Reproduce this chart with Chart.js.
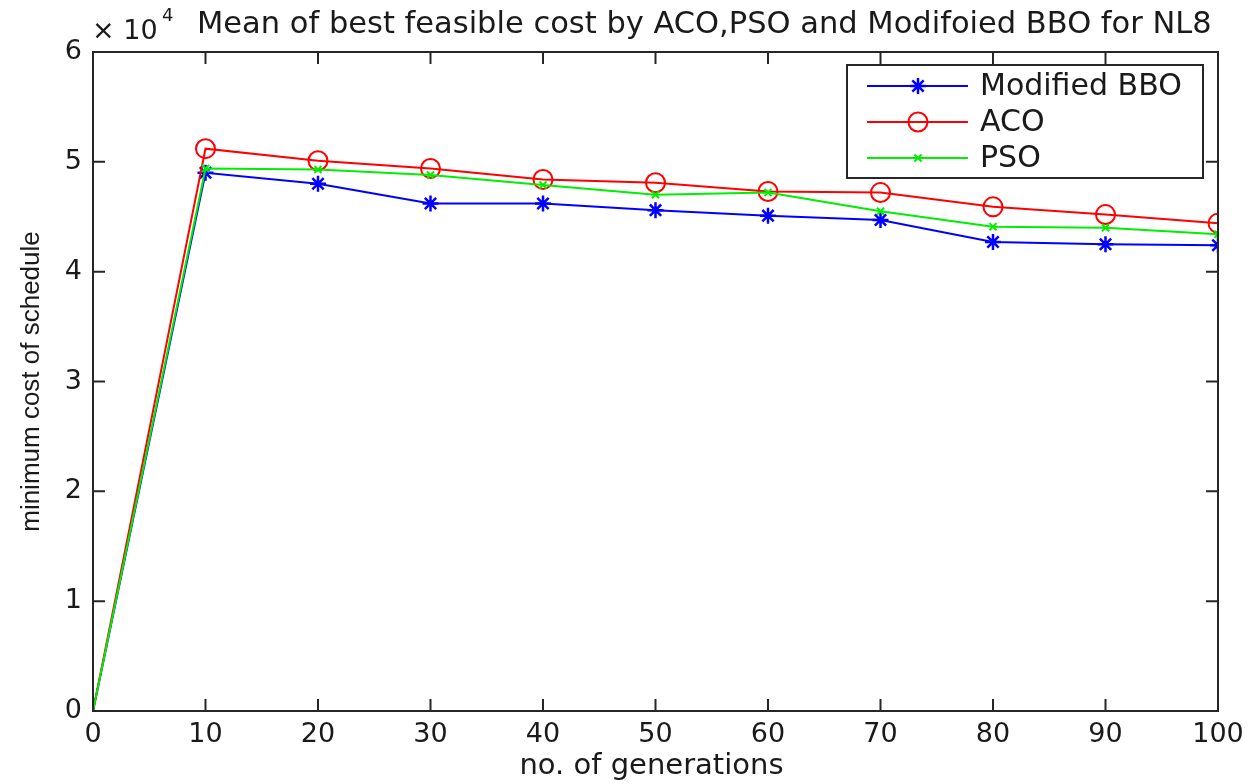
<!DOCTYPE html>
<html>
<head>
<meta charset="utf-8">
<title>Mean of best feasible cost by ACO,PSO and Modifoied BBO for NL8</title>
<script src="https://cdn.jsdelivr.net/npm/chart.js@4.4.1/dist/chart.umd.min.js"></script>
<style>
  body { margin: 0; background: #fff; }
  canvas { display: block; }
</style>
</head>
<body>
<canvas id="myChart" width="1260" height="784"></canvas>
<script>
// values (cost in raw units, axis shows x 10^4)
const generations = [0, 10, 20, 30, 40, 50, 60, 70, 80, 90, 100];
const bboCost = [0, 49000, 48000, 46200, 46200, 45600, 45100, 44700, 42700, 42500, 42400];
const acoCost = [0, 51200, 50100, 49400, 48400, 48100, 47300, 47200, 45900, 45200, 44400];
const psoCost = [0, 49400, 49300, 48800, 47900, 47000, 47200, 45500, 44100, 44000, 43400];
const seriesNames = ["Modified BBO", "ACO", "PSO"];
const yTickValues = [0, 10000, 20000, 30000, 40000, 50000, 60000];
const xTickValues = [0, 10, 20, 30, 40, 50, 60, 70, 80, 90, 100];

const titleText = "Mean of best feasible cost by ACO,PSO and Modifoied BBO for NL8";
const xTitle = "no. of generations";
const yTitle = "minimum cost of schedule";

const axisColor = "#262626";
const textColor = "#1a1a1a";
const wideFont = "'DejaVu Sans', sans-serif";
const plainFont = "'Liberation Sans', Arial, sans-serif";

function toPoints(vals) {
  return vals.map((v, i) => ({ x: generations[i], y: v }));
}
// no marker on the origin point
function markerSize(r) {
  return (c) => (c.dataIndex === 0 ? 0 : r);
}

const frameAndText = {
  id: "frameAndText",
  afterDraw(chart) {
    const ctx = chart.ctx;
    const area = chart.chartArea;
    const xs = chart.scales.x;
    const ys = chart.scales.y;
    const tick = 12;

    ctx.save();
    // box + inward ticks on all four sides
    ctx.strokeStyle = axisColor;
    ctx.lineWidth = 2;
    ctx.strokeRect(area.left, area.top, area.right - area.left, area.bottom - area.top);
    ctx.beginPath();
    xTickValues.forEach((v) => {
      const px = xs.getPixelForValue(v);
      ctx.moveTo(px, area.bottom); ctx.lineTo(px, area.bottom - tick);
      ctx.moveTo(px, area.top); ctx.lineTo(px, area.top + tick);
    });
    yTickValues.forEach((v) => {
      const py = ys.getPixelForValue(v);
      ctx.moveTo(area.left, py); ctx.lineTo(area.left + tick, py);
      ctx.moveTo(area.right, py); ctx.lineTo(area.right - tick, py);
    });
    ctx.stroke();

    ctx.fillStyle = textColor;
    // title
    ctx.font = "30.5px " + wideFont;
    ctx.textAlign = "left";
    ctx.textBaseline = "alphabetic";
    ctx.fillText(titleText, 197, 33);

    // exponent label
    ctx.font = "27px " + wideFont;
    ctx.fillText("\u00d7 10", 92, 39);
    ctx.font = "18px " + wideFont;
    ctx.fillText("4", 162, 21);

    // x axis title
    ctx.font = "29px " + wideFont;
    ctx.textAlign = "center";
    ctx.fillText(xTitle, (area.left + area.right) / 2 - 4, 774);

    // y axis title (rotated)
    ctx.save();
    ctx.translate(39, (area.top + area.bottom) / 2);
    ctx.rotate(-Math.PI / 2);
    ctx.font = "26px " + plainFont;
    ctx.textAlign = "center";
    ctx.fillText(yTitle, 0, 0);
    ctx.restore();

    // legend box
    const lx = 847, ly = 65, lw = 356, lh = 113;
    ctx.fillStyle = "#fff";
    ctx.fillRect(lx, ly, lw, lh);
    ctx.strokeStyle = axisColor;
    ctx.lineWidth = 2;
    ctx.strokeRect(lx, ly, lw, lh);
    const rows = [86, 122, 158];
    chart.data.datasets.forEach((ds, i) => {
      const y = rows[i];
      ctx.strokeStyle = ds.borderColor;
      ctx.lineWidth = 2;
      ctx.beginPath();
      ctx.moveTo(867, y); ctx.lineTo(968, y);
      ctx.stroke();
      ctx.fillStyle = "rgba(0,0,0,0)";
      ctx.strokeStyle = ds.pointBorderColor;
      ctx.lineWidth = ds.pointBorderWidth;
      Chart.helpers.drawPoint(ctx, {
        pointStyle: ds.pointStyle,
        radius: ds.legendRadius,
        rotation: 0,
        borderWidth: ds.pointBorderWidth
      }, 918, y);
      ctx.fillStyle = textColor;
      ctx.font = "30px " + wideFont;
      ctx.textAlign = "left";
      ctx.textBaseline = "middle";
      ctx.fillText(ds.label, 980, y + 1);
    });
    ctx.restore();
  }
};

const whiteBg = {
  id: "whiteBg",
  beforeDraw(chart) {
    const ctx = chart.ctx;
    ctx.save();
    ctx.fillStyle = "#fff";
    ctx.fillRect(0, 0, chart.width, chart.height);
    ctx.restore();
  }
};

const ctx = document.getElementById("myChart").getContext("2d");
const myChart = new Chart(ctx, {
  type: "line",
  data: {
    datasets: [
      {
        label: seriesNames[0],
        data: toPoints(bboCost),
        borderColor: "#0000ff",
        pointBorderColor: "#0000ff",
        backgroundColor: "rgba(0,0,0,0)",
        pointBackgroundColor: "rgba(0,0,0,0)",
        borderWidth: 2,
        pointStyle: "star",
        pointRadius: markerSize(8),
        legendRadius: 8,
        pointBorderWidth: 2.5,
        order: 3
      },
      {
        label: seriesNames[1],
        data: toPoints(acoCost),
        borderColor: "#ff0000",
        pointBorderColor: "#ff0000",
        backgroundColor: "rgba(0,0,0,0)",
        pointBackgroundColor: "rgba(0,0,0,0)",
        borderWidth: 2,
        pointStyle: "circle",
        pointRadius: markerSize(9.5),
        legendRadius: 9.5,
        pointBorderWidth: 2,
        order: 2
      },
      {
        label: seriesNames[2],
        data: toPoints(psoCost),
        borderColor: "#00ee00",
        pointBorderColor: "#00ee00",
        backgroundColor: "rgba(0,0,0,0)",
        pointBackgroundColor: "rgba(0,0,0,0)",
        borderWidth: 2,
        pointStyle: "crossRot",
        pointRadius: markerSize(5),
        legendRadius: 5,
        pointBorderWidth: 2,
        order: 1
      }
    ]
  },
  options: {
    responsive: false,
    animation: false,
    layout: { padding: { top: 52, right: 42, left: 0, bottom: 0 } },
    elements: { line: { tension: 0 } },
    scales: {
      x: {
        type: "linear",
        min: 0,
        max: 100,
        afterFit: (s) => { s.height = 73; },
        afterBuildTicks: (s) => { s.ticks = xTickValues.map((v) => ({ value: v })); },
        grid: { display: false, drawTicks: false },
        border: { display: false },
        ticks: {
          padding: 8,
          color: textColor,
          font: { family: wideFont, size: 27 },
          maxRotation: 0,
          autoSkip: false
        }
      },
      y: {
        min: 0,
        max: 60000,
        afterFit: (s) => { s.width = 93; },
        afterBuildTicks: (s) => { s.ticks = yTickValues.map((v) => ({ value: v })); },
        grid: { display: false, drawTicks: false },
        border: { display: false },
        ticks: {
          padding: 11,
          color: textColor,
          font: { family: wideFont, size: 27 },
          callback: (v) => v / 10000
        }
      }
    },
    plugins: {
      legend: { display: false },
      title: { display: false },
      tooltip: { enabled: false }
    }
  },
  plugins: [whiteBg, frameAndText]
});
</script>
</body>
</html>
